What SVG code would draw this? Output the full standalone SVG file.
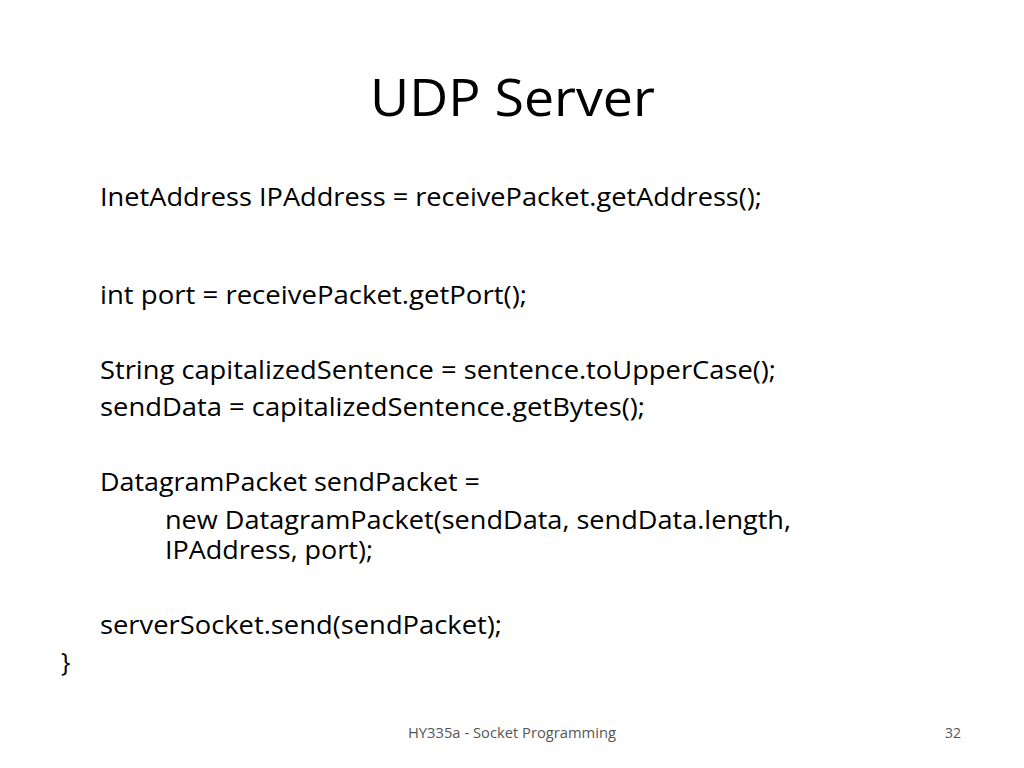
<svg xmlns="http://www.w3.org/2000/svg" width="1024" height="768" viewBox="0 0 1024 768">
<style>
text{font-family:"Open Sans","Liberation Sans",sans-serif;fill:#000}
.b{font-size:25px}
.f{font-size:14px;fill:#555}
</style>
<rect width="1024" height="768" fill="#fff"/>
<text x="370" y="116" font-size="52" textLength="285" lengthAdjust="spacingAndGlyphs">UDP Server</text>
<text class="b" x="100" y="206" textLength="662" lengthAdjust="spacingAndGlyphs">InetAddress IPAddress = receivePacket.getAddress();</text>
<text class="b" x="100" y="304" textLength="427" lengthAdjust="spacingAndGlyphs">int port = receivePacket.getPort();</text>
<text class="b" x="100" y="379" textLength="676" lengthAdjust="spacingAndGlyphs">String capitalizedSentence = sentence.toUpperCase();</text>
<text class="b" x="100" y="416" textLength="545" lengthAdjust="spacingAndGlyphs">sendData = capitalizedSentence.getBytes();</text>
<text class="b" x="100" y="491" textLength="380" lengthAdjust="spacingAndGlyphs">DatagramPacket sendPacket =</text>
<text class="b" x="165" y="529" textLength="626" lengthAdjust="spacingAndGlyphs">new DatagramPacket(sendData, sendData.length,</text>
<text class="b" x="165" y="559" textLength="208" lengthAdjust="spacingAndGlyphs">IPAddress, port);</text>
<text class="b" x="100" y="634" textLength="402" lengthAdjust="spacingAndGlyphs">serverSocket.send(sendPacket);</text>
<text class="b" x="61" y="671">}</text>
<text class="f" x="408" y="738" textLength="208" lengthAdjust="spacingAndGlyphs">HY335a - Socket Programming</text>
<text class="f" x="945" y="738">32</text>
</svg>
